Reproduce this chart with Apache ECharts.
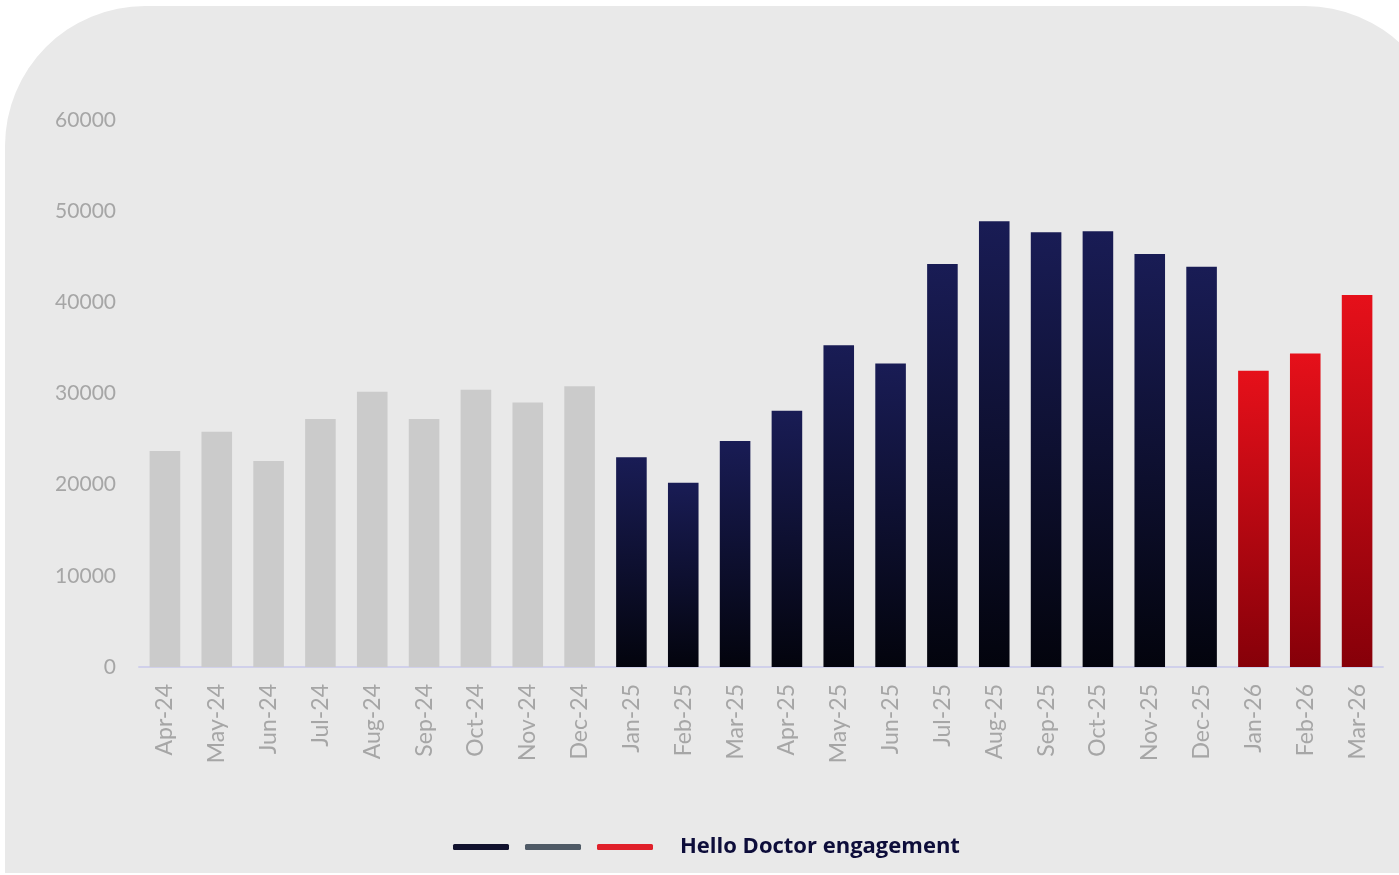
<!DOCTYPE html>
<html>
<head>
<meta charset="utf-8">
<script src="https://cdn.jsdelivr.net/npm/echarts@6/dist/echarts.min.js"></script>
<style>
html,body{margin:0;padding:0;background:#ffffff;}
#chart{width:1399px;height:875px;}
</style>
</head>
<body>
<div id="chart"></div>
<script>
const categories = ['Apr-24','May-24','Jun-24','Jul-24','Aug-24','Sep-24','Oct-24','Nov-24','Dec-24',
  'Jan-25','Feb-25','Mar-25','Apr-25','May-25','Jun-25','Jul-25','Aug-25','Sep-25','Oct-25','Nov-25','Dec-25',
  'Jan-26','Feb-26','Mar-26'];
const grayValues = [23700,25800,22600,27200,30200,27200,30400,29000,30800];
const navyValues = [23000,20200,24800,28100,35300,33300,44200,48900,47700,47800,45300,43900];
const redValues = [32500,34400,40800];
const yTicks = [0,10000,20000,30000,40000,50000,60000];
const legendLabel = 'Hello Doctor engagement';

const nGray = grayValues.length, nNavy = navyValues.length;
const pad = (arr, before, total) => {
  const out = [];
  for (let i = 0; i < total; i++) {
    const j = i - before;
    out.push(j >= 0 && j < arr.length ? arr[j] : '-');
  }
  return out;
};
const total = categories.length;

const navyGrad = new echarts.graphic.LinearGradient(0,0,0,1,[{offset:0,color:'#191c55'},{offset:1,color:'#03040d'}]);
const redGrad = new echarts.graphic.LinearGradient(0,0,0,1,[{offset:0,color:'#e6101a'},{offset:1,color:'#860009'}]);

const chart = echarts.init(document.getElementById('chart'));
chart.setOption({
  backgroundColor: '#ffffff',
  animation: false,
  graphic: [{
    type: 'rect', z: -10, silent: true,
    shape: {x: 5, y: 6, width: 1440, height: 867, r: [140,140,0,0]},
    style: {fill: '#e9e9e9'}
  }],
  grid: {left: 139, right: 16, top: 120, bottom: 208},
  legend: {
    bottom: 17, left: 453, padding: 0,
    icon: 'roundRect', itemWidth: 56, itemHeight: 6, itemGap: 16,
    formatter: name => name === legendLabel ? '{t|' + name + '}' : '',
    textStyle: {
      rich: {t: {fontFamily: 'Open Sans', fontWeight: 'bold', fontSize: 22, color: '#0d0d3a', padding: [0,0,0,22]}}
    },
    data: [
      {name: 'A', itemStyle: {color: '#11122e'}},
      {name: 'B', itemStyle: {color: '#4f5a66'}},
      {name: legendLabel, itemStyle: {color: '#e0202a'}}
    ]
  },
  xAxis: {
    type: 'category', data: categories,
    axisLine: {lineStyle: {color: '#d0d0ea', width: 2}},
    axisTick: {show: false},
    axisLabel: {rotate: 90, margin: 17, color: '#a6a6a6', fontSize: 23, fontFamily: 'Lato', interval: 0}
  },
  yAxis: {
    type: 'value', min: yTicks[0], max: yTicks[yTicks.length-1], interval: yTicks[1]-yTicks[0],
    splitLine: {show: false}, axisLine: {show: false}, axisTick: {show: false},
    axisLabel: {margin: 23, color: '#a6a6a6', fontSize: 21, fontFamily: 'Lato', formatter: v => String(v)}
  },
  series: [
    {name: 'B', type: 'bar', stack: 's', barWidth: '59%', data: pad(grayValues, 0, total), itemStyle: {color: '#cbcbcb'}},
    {name: 'A', type: 'bar', stack: 's', barWidth: '59%', data: pad(navyValues, nGray, total), itemStyle: {color: navyGrad}},
    {name: legendLabel, type: 'bar', stack: 's', barWidth: '59%', data: pad(redValues, nGray + nNavy, total), itemStyle: {color: redGrad}}
  ]
});
</script>
</body>
</html>
